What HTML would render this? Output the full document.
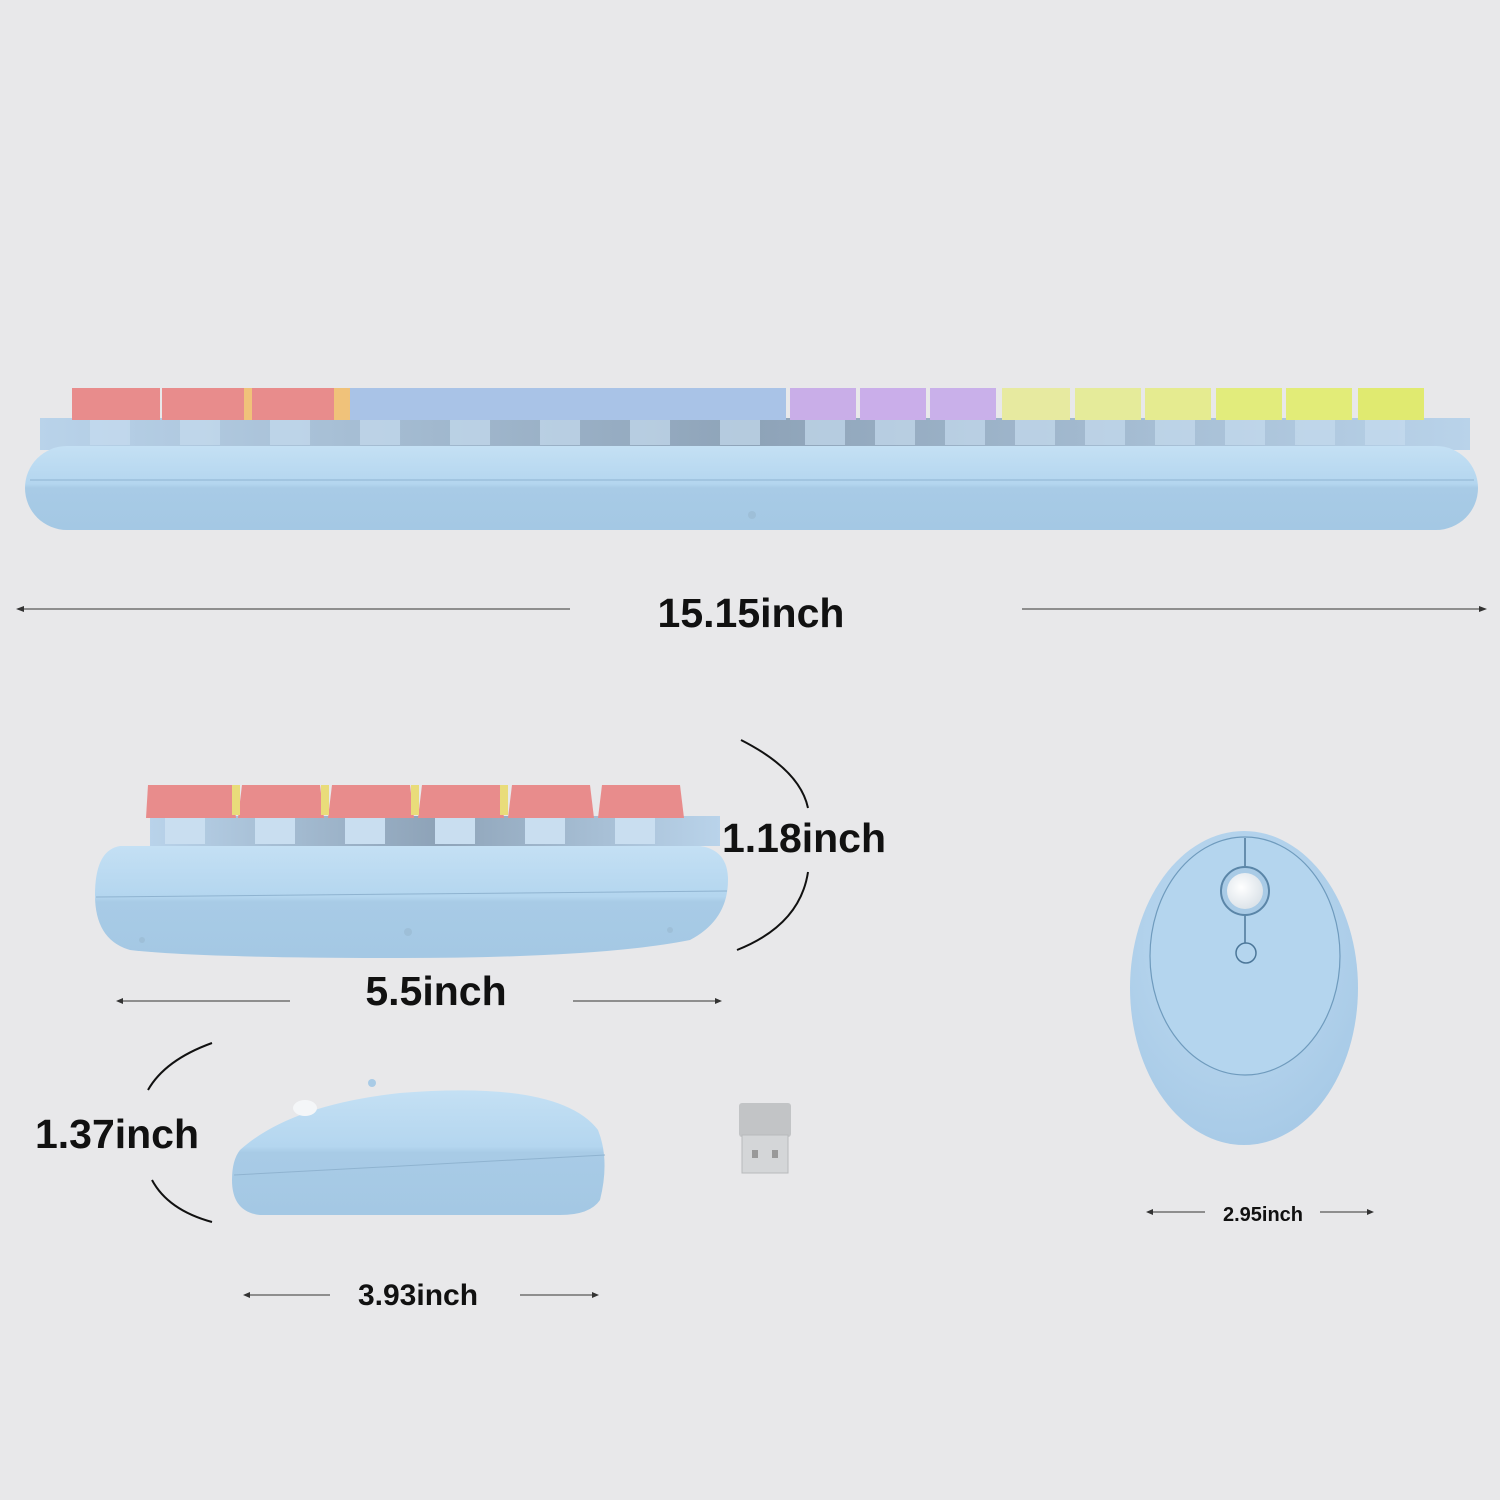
<!DOCTYPE html>
<html><head><style>
html,body{margin:0;padding:0;background:#e8e8ea;}
svg{display:block}
text{font-family:"Liberation Sans",sans-serif;font-weight:bold;fill:#111}
</style></head><body>
<svg width="1500" height="1500" viewBox="0 0 1500 1500" xmlns="http://www.w3.org/2000/svg">
<defs>
<linearGradient id="bd" x1="0" y1="0" x2="0" y2="1">
<stop offset="0" stop-color="#c4e0f4"/><stop offset="0.45" stop-color="#b4d6ef"/><stop offset="0.5" stop-color="#a8cbe6"/><stop offset="1" stop-color="#a4c8e4"/></linearGradient>
<linearGradient id="sw" x1="0" y1="0" x2="1" y2="0">
<stop offset="0" stop-color="#b9d3ea"/><stop offset="0.5" stop-color="#8ea3b8"/><stop offset="1" stop-color="#b9d3ea"/></linearGradient>
<radialGradient id="ms" cx="0.45" cy="0.35" r="0.7"><stop offset="0" stop-color="#c0dcf2"/><stop offset="1" stop-color="#a6c9e6"/></radialGradient>
<radialGradient id="wh" cx="0.4" cy="0.4" r="0.6"><stop offset="0" stop-color="#ffffff"/><stop offset="1" stop-color="#dde4ea"/></radialGradient>
</defs>
<rect width="1500" height="1500" fill="#e8e8ea"/>

<rect x="40" y="418" width="1430" height="32" fill="url(#sw)"/>
<g fill="#c6dcef" opacity="0.7">
<rect x="90" y="420" width="40" height="25"/><rect x="180" y="420" width="40" height="25"/><rect x="270" y="420" width="40" height="25"/>
<rect x="360" y="420" width="40" height="25"/><rect x="450" y="420" width="40" height="25"/><rect x="540" y="420" width="40" height="25"/>
<rect x="630" y="420" width="40" height="25"/><rect x="720" y="420" width="40" height="25"/><rect x="805" y="420" width="40" height="25"/>
<rect x="875" y="420" width="40" height="25"/><rect x="945" y="420" width="40" height="25"/><rect x="1015" y="420" width="40" height="25"/>
<rect x="1085" y="420" width="40" height="25"/><rect x="1155" y="420" width="40" height="25"/><rect x="1225" y="420" width="40" height="25"/>
<rect x="1295" y="420" width="40" height="25"/><rect x="1365" y="420" width="40" height="25"/>
</g>
<path d="M72 388 L160 388 L160 420 L72 420 Z" fill="#e88c8c"/>
<path d="M162 388 L244 388 L244 420 L162 420 Z" fill="#e88c8c"/>
<path d="M252 388 L334 388 L334 420 L252 420 Z" fill="#e88c8c"/>
<path d="M244 388 L252 388 L252 420 L244 420Z M334 388 L350 388 L350 420 L334 420Z" fill="#f0c27a"/>
<rect x="350" y="388" width="436" height="32" fill="#a9c3e7"/>
<rect x="790" y="388" width="66" height="32" fill="#c9aee8"/>
<rect x="860" y="388" width="66" height="32" fill="#caaeea"/>
<rect x="930" y="388" width="66" height="32" fill="#c9b0ea"/>
<rect x="1002" y="388" width="68" height="32" fill="#e7eaa0"/>
<rect x="1075" y="388" width="66" height="32" fill="#e5eb9a"/>
<rect x="1145" y="388" width="66" height="32" fill="#e5eb90"/>
<rect x="1216" y="388" width="66" height="32" fill="#e2ec7c"/>
<rect x="1286" y="388" width="66" height="32" fill="#e2ec78"/>
<rect x="1358" y="388" width="66" height="32" fill="#e0ea70"/>
<rect x="25" y="446" width="1453" height="84" rx="42" fill="url(#bd)"/>
<line x1="30" y1="480" x2="1474" y2="480" stroke="#8fb3d0" stroke-width="1"/>
<circle cx="752" cy="515" r="4" fill="#9ebfd8"/>

<line x1="18" y1="609" x2="570" y2="609" stroke="#333" stroke-width="1"/>
<line x1="1022" y1="609" x2="1485" y2="609" stroke="#333" stroke-width="1"/>
<path d="M16 609 l8 -3 v6z M1487 609 l-8 -3 v6z" fill="#333"/>
<text x="751" y="627" font-size="41" text-anchor="middle">15.15inch</text>

<rect x="150" y="816" width="570" height="30" fill="url(#sw)"/>
<g fill="#c9def0"><rect x="165" y="818" width="40" height="26"/><rect x="255" y="818" width="40" height="26"/><rect x="345" y="818" width="40" height="26"/><rect x="435" y="818" width="40" height="26"/><rect x="525" y="818" width="40" height="26"/><rect x="615" y="818" width="40" height="26"/></g>
<path d="M148 785 L232 785 L236 818 L146 818Z" fill="#e88c8c"/>
<path d="M242 785 L320 785 L324 818 L238 818Z" fill="#e88c8c"/>
<path d="M332 785 L410 785 L414 818 L328 818Z" fill="#e88c8c"/>
<path d="M422 785 L500 785 L504 818 L418 818Z" fill="#e88c8c"/>
<path d="M512 785 L590 785 L594 818 L508 818Z" fill="#e88c8c"/>
<path d="M602 785 L680 785 L684 818 L598 818Z" fill="#e88c8c"/>
<g fill="#e9dc7a"><rect x="232" y="785" width="8" height="30"/><rect x="321" y="785" width="8" height="30"/><rect x="411" y="785" width="8" height="30"/><rect x="500" y="785" width="8" height="30"/></g>
<path d="M120 846 L700 846 Q728 850 728 880 Q728 920 690 940 Q600 958 400 958 Q200 958 130 950 Q95 940 95 895 Q95 850 120 846Z" fill="url(#bd)"/>
<line x1="96" y1="897" x2="727" y2="891" stroke="#8fb3d0"/>
<circle cx="408" cy="932" r="4" fill="#9ebfd8"/><circle cx="142" cy="940" r="3" fill="#9ebfd8"/><circle cx="670" cy="930" r="3" fill="#9ebfd8"/>
<path d="M741 740 Q800 770 808 808" fill="none" stroke="#111" stroke-width="2"/>
<path d="M808 872 Q800 925 737 950" fill="none" stroke="#111" stroke-width="2"/>
<text x="804" y="852" font-size="41" text-anchor="middle">1.18inch</text>
<line x1="118" y1="1001" x2="290" y2="1001" stroke="#333"/><line x1="573" y1="1001" x2="720" y2="1001" stroke="#333"/>
<path d="M116 1001 l7 -3 v6z M722 1001 l-7 -3 v6z" fill="#333"/>
<text x="436" y="1005" font-size="41" text-anchor="middle">5.5inch</text>

<path d="M240 1150 Q290 1105 400 1093 Q560 1080 598 1130 Q610 1160 600 1200 Q590 1215 560 1215 L260 1215 Q232 1212 232 1180 Q232 1160 240 1150Z" fill="url(#bd)"/>
<line x1="234" y1="1175" x2="605" y2="1155" stroke="#8fb3d0"/>
<ellipse cx="305" cy="1108" rx="12" ry="8" fill="#f4f6f8"/>
<circle cx="372" cy="1083" r="4" fill="#a9cbe6"/>
<path d="M212 1043 Q165 1060 148 1090" fill="none" stroke="#111" stroke-width="2"/>
<path d="M152 1180 Q168 1210 212 1222" fill="none" stroke="#111" stroke-width="2"/>
<text x="117" y="1148" font-size="41" text-anchor="middle">1.37inch</text>
<line x1="245" y1="1295" x2="330" y2="1295" stroke="#333"/><line x1="520" y1="1295" x2="597" y2="1295" stroke="#333"/>
<path d="M243 1295 l7 -3 v6z M599 1295 l-7 -3 v6z" fill="#333"/>
<text x="418" y="1305" font-size="30" text-anchor="middle">3.93inch</text>

<rect x="739" y="1103" width="52" height="34" rx="3" fill="#c2c4c6"/>
<rect x="742" y="1135" width="46" height="38" fill="#d4d6d8" stroke="#b8babc"/>
<rect x="752" y="1150" width="6" height="8" fill="#999"/><rect x="772" y="1150" width="6" height="8" fill="#999"/>

<ellipse cx="1244" cy="988" rx="114" ry="157" fill="url(#ms)"/>
<ellipse cx="1245" cy="956" rx="95" ry="119" fill="#b4d5ee" stroke="#6f9bbd" stroke-width="1.2"/>
<line x1="1245" y1="838" x2="1245" y2="866" stroke="#4c7799" stroke-width="1.5"/>
<line x1="1245" y1="916" x2="1245" y2="943" stroke="#4c7799" stroke-width="1.5"/>
<circle cx="1245" cy="891" r="24" fill="#a9cbe6" stroke="#5b86a8" stroke-width="2"/>
<circle cx="1245" cy="891" r="18" fill="url(#wh)"/>
<circle cx="1246" cy="953" r="10" fill="none" stroke="#4c7799" stroke-width="1.5"/>
<line x1="1148" y1="1212" x2="1205" y2="1212" stroke="#333"/><line x1="1320" y1="1212" x2="1372" y2="1212" stroke="#333"/>
<path d="M1146 1212 l7 -3 v6z M1374 1212 l-7 -3 v6z" fill="#333"/>
<text x="1263" y="1221" font-size="20" text-anchor="middle">2.95inch</text>
</svg>
</body></html>
